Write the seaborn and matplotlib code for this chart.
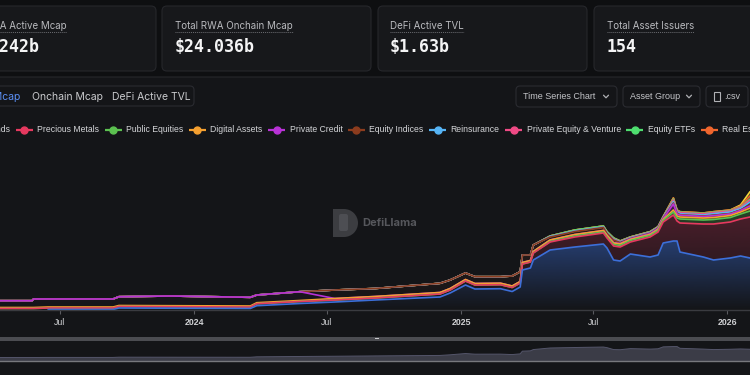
import numpy as np
import pandas as pd
import matplotlib
matplotlib.use("Agg")
import matplotlib.pyplot as plt
from matplotlib.patches import FancyBboxPatch, Rectangle, Wedge
from matplotlib.colors import to_rgb
import matplotlib.dates as mdates
import seaborn as sns

sns.set_theme(style="dark")
plt.rcParams["font.family"] = ["Inter", "DejaVu Sans"]

# active mcap by asset group, in $b
dates = ["2023-04-10", "2023-05-24", "2023-05-26", "2023-06-15", "2023-09-12", "2023-09-20",
         "2023-11-29", "2024-03-18", "2024-03-27", "2024-05-25", "2024-07-12", "2024-09-05",
         "2024-12-03", "2024-12-17", "2025-01-07", "2025-01-20", "2025-02-24", "2025-03-12",
         "2025-03-23", "2025-03-26", "2025-04-06", "2025-04-10", "2025-05-03", "2025-06-06",
         "2025-07-15", "2025-07-20", "2025-07-29", "2025-08-07", "2025-08-21", "2025-09-17",
         "2025-09-28", "2025-10-05", "2025-10-19", "2025-10-24", "2025-10-28", "2025-11-29",
         "2025-12-13", "2026-01-05", "2026-01-19", "2026-02-01"]

treasury_bonds = [np.nan, np.nan, np.nan, 0.05, 0.05, 0.2, 0.18, 0.15, 0.43, 0.65,
                  0.8, 1.0, 1.3, 1.7, 2.5, 2.1, 2.13, 1.85, 2.3, 4.0,
                  4.2, 5.0, 6.0, 6.3, 6.6, 6.2, 5.0, 4.9, 5.6, 5.3,
                  5.5, 6.7, 6.9, 6.9, 5.8, 5.3, 5.0, 5.2, 5.4, 5.2]
precious_metals = [0.15, 0.15, 0.15, 0.15, 0.15, 0.15, 0.15, 0.15, 0.2, 0.2,
                   0.2, 0.2, 0.3, 0.3, 0.4, 0.4, 0.4, 0.4, 0.4, 0.6,
                   0.6, 0.7, 0.8, 1.0, 1.1, 1.0, 1.4, 1.4, 1.2, 2.0,
                   2.3, 2.1, 2.6, 2.0, 2.9, 3.3, 3.6, 3.6, 3.7, 4.1]
public_equities = [0, 0, 0, 0, 0, 0, 0, 0, 0, 0,
                   0, 0, 0, 0, 0, 0, 0, 0, 0, 0,
                   0, 0, 0.05, 0.1, 0.1, 0.1, 0.15, 0.15, 0.15, 0.15,
                   0.15, 0.15, 0.3, 0.3, 0.4, 0.4, 0.45, 0.45, 0.5, 0.6]
digital_assets = [0.1, 0.1, 0.1, 0.1, 0.1, 0.1, 0.1, 0.1, 0.1, 0.1,
                  0.15, 0.15, 0.15, 0.15, 0.15, 0.15, 0.15, 0.15, 0.15, 0.15,
                  0.15, 0.15, 0.15, 0.15, 0.15, 0.15, 0.15, 0.15, 0.1, 0.1,
                  0.1, 0.1, 0.2, 0.2, 0.2, 0.2, 0.2, 0.2, 0.2, 0.3]
private_credit = [0.68, 0.68, 0.85, 0.8, 0.8, 0.88, 0.97, 0.87, 0.77, 0.88,
                  0, 0, 0, 0, 0, 0, 0, 0, 0, 0,
                  0, 0, 0, 0, 0, 0, 0.05, 0.05, 0.05, 0.08,
                  0.08, 0.08, 0.6, 0.2, 0.18, 0.15, 0.18, 0.15, 0.15, 0.2]
equity_indices = [0, 0, 0, 0, 0, 0, 0, 0, 0, 0,
                  0.85, 0.8, 0.92, 0.85, 0.65, 0.68, 0.65, 1.0, 0.98, 0.75,
                  0.55, 0.65, 0.3, 0.3, 0.3, 0.23, 0.25, 0.1, 0.05, 0.05,
                  0.05, 0.05, 0.1, 0.1, 0.05, 0.05, 0.05, 0.05, 0.05, 0.1]
reinsurance = [0, 0, 0, 0, 0, 0, 0, 0, 0, 0,
               0, 0, 0, 0, 0, 0, 0, 0, 0, 0,
               0, 0, 0.05, 0.05, 0.05, 0.05, 0.05, 0.05, 0.05, 0.05,
               0.05, 0.05, 0.15, 0.1, 0.1, 0.1, 0.15, 0.15, 0.15, 0.3]
pe_venture = [0, 0, 0, 0, 0, 0, 0, 0, 0, 0,
              0, 0, 0, 0, 0, 0, 0, 0, 0, 0,
              0, 0, 0, 0, 0, 0, 0.05, 0.05, 0.05, 0.05,
              0.05, 0.05, 0.15, 0.1, 0.1, 0.1, 0.1, 0.1, 0.1, 0.2]
equity_etfs = [0, 0, 0, 0, 0, 0, 0, 0, 0, 0,
               0, 0, 0, 0, 0, 0, 0, 0, 0, 0,
               0, 0, 0.05, 0.1, 0.1, 0.1, 0.1, 0.05, 0.05, 0.05,
               0.05, 0.05, 0.1, 0.05, 0.05, 0.05, 0.05, 0.05, 0.05, 0.1]
real_estate = [0, 0, 0, 0, 0, 0, 0, 0, 0, 0,
               0, 0, 0, 0, 0, 0, 0, 0, 0, 0,
               0, 0, 0, 0, 0, 0, 0, 0, 0, 0,
               0, 0, 0.1, 0.05, 0.05, 0.05, 0.05, 0.05, 0.1, 0.3]
commodities = [0, 0, 0, 0, 0, 0, 0, 0, 0, 0,
               0, 0, 0, 0, 0, 0, 0, 0, 0, 0,
               0, 0, 0, 0, 0, 0, 0, 0, 0, 0,
               0, 0, 0, 0, 0, 0, 0, 0, 0.1, 0.43]

series_names = ["Treasury Bonds", "Precious Metals", "Public Equities", "Digital Assets",
                "Private Credit", "Equity Indices", "Reinsurance", "Private Equity & Venture",
                "Equity ETFs", "Real Estate", "Commodities"]
series_colors = ["#3c6fd9", "#e6395f", "#5cc150", "#f5a030", "#b832d6", "#8c3c1e",
                 "#56b4f5", "#ef4a85", "#4ede6f", "#f0662e", "#f2d43a"]

tick_dates = ["2023-07-01", "2024-01-01", "2024-07-01", "2025-01-01", "2025-07-01", "2026-01-01"]
tick_labels = ["Jul", "2024", "Jul", "2025", "Jul", "2026"]

stat_labels = ["Total RWA Active Mcap", "Total RWA Onchain Mcap", "DeFi Active TVL", "Total Asset Issuers"]
stat_values = ["$18.242b", "$24.036b", "$1.63b", "154"]

df = pd.DataFrame({"date": pd.to_datetime(dates)})
for name, vals in zip(series_names, [treasury_bonds, precious_metals, public_equities, digital_assets,
                                     private_credit, equity_indices, reinsurance, pe_venture,
                                     equity_etfs, real_estate, commodities]):
    df[name] = vals
stacked = df[series_names].fillna(0).cumsum(axis=1)

PAGE = "#0e0f11"
PANEL = "#141518"
CARD = "#17181b"
EDGE = "#26272b"

fig = plt.figure(figsize=(7.5, 3.75), dpi=100)
fig.patch.set_facecolor(PAGE)

bg = fig.add_axes([0, 0, 1, 1])
bg.set_xlim(0, 750)
bg.set_ylim(375, 0)
bg.axis("off")


def box(x0, y0, x1, y1, face, edge, r=5, lw=0.8):
    bg.add_patch(FancyBboxPatch((x0, y0), x1 - x0, y1 - y0,
                                boxstyle=f"round,pad=0,rounding_size={r}",
                                fc=face, ec=edge, lw=lw))


def chevron(cx, cy):
    bg.plot([cx - 2.5, cx, cx + 2.5], [cy - 1.3, cy + 1.3, cy - 1.3], color="#b0b1b5", lw=0.9)


# panels
box(-10, 77, 760, 395, PANEL, EDGE)
for x0, x1 in [(-10, 156), (162, 371), (378, 587), (594, 760)]:
    box(x0, 6, x1, 71, CARD, EDGE)

renderer = fig.canvas.get_renderer()
inv = bg.transData.inverted()

# stat cards (first card is cut by the left edge, as in the screenshot)
label_x = [67, 175, 390, 607]
value_x = [40, 175, 390, 607]
for i, (lab, val) in enumerate(zip(stat_labels, stat_values)):
    ha = "right" if i == 0 else "left"
    t = bg.text(label_x[i], 26, lab, ha=ha, va="center", fontsize=7, color="#b9babe")
    bb = t.get_window_extent(renderer).transformed(inv)
    bg.plot([bb.x0, bb.x1], [31.5, 31.5], color="#6b6c71", lw=0.7, ls=(0, (1, 1)))
    bg.text(value_x[i], 47, val, ha=ha, va="center", fontsize=12, fontweight="bold",
            family="DejaVu Sans Mono", color="#f4f4f5")

# tabs
box(-10, 86, 194, 106, PANEL, "#2a2b30", r=4)
bg.text(20.5, 96.5, "Active Mcap", ha="right", va="center", fontsize=7.5, color="#5b8ff5")
bg.text(32, 96.5, "Onchain Mcap", ha="left", va="center", fontsize=7.5, color="#c9cacd")
bg.text(112, 96.5, "DeFi Active TVL", ha="left", va="center", fontsize=7.5, color="#c9cacd")

# buttons
btn_font = dict(va="center", fontsize=6.5, color="#c4c5c9", family=["Liberation Sans", "DejaVu Sans"])
box(516, 86, 617, 107, PANEL, "#2a2b30", r=4)
bg.text(523, 96.5, "Time Series Chart", **btn_font)
chevron(606, 96.5)
box(623, 86, 700, 107, PANEL, "#2a2b30", r=4)
bg.text(630, 96.5, "Asset Group", **btn_font)
chevron(689, 96.5)
box(706, 86, 748, 107, PANEL, "#2a2b30", r=4)
bg.add_patch(Rectangle((713.5, 92), 6, 8.5, fc="none", ec="#b0b1b5", lw=0.8))
bg.text(724, 96.5, ".csv", **btn_font)

# legend row
leg_y = 130
leg_font = dict(va="center", fontsize=6.2, color="#d5d6d9", family=["Liberation Sans", "DejaVu Sans"])
bg.text(10, leg_y, series_names[0], ha="right", **leg_font)
x = 24
for name, col in zip(series_names[1:], series_colors[1:]):
    bg.plot([x - 8.5, x + 8.5], [leg_y, leg_y], color=col, lw=1.6, solid_capstyle="butt")
    bg.plot([x], [leg_y], "o", ms=5, color=col, mec=col)
    t = bg.text(x + 13, leg_y, name, ha="left", **leg_font)
    x = x + 13 + t.get_window_extent(renderer).width + 14

# watermark
bg.add_patch(Rectangle((333, 209), 11, 28, fc="#3c3d41", ec="none"))
bg.add_patch(Wedge((344, 223), 14, -90, 90, fc="#3c3d41", ec="none"))
bg.add_patch(FancyBboxPatch((339, 214), 9, 17, boxstyle="round,pad=0,rounding_size=2",
                            fc="#4d4e53", ec="none"))
bg.text(362, 223, "DefiLlama", ha="left", va="center", fontsize=8, fontweight="bold", color="#56575c")

# slider bar
bg.add_patch(Rectangle((-5, 336.5), 760, 4.3, fc="#4b4c51", ec="none"))
bg.add_patch(Rectangle((375, 337.6), 3.5, 1.8, fc="#c8c9cc", ec="none"))

# main stacked area chart
ax = fig.add_axes([0, 65 / 375, 1, 170 / 375])
ax.set_facecolor("none")
x_num = mdates.date2num(df["date"])
lower = np.zeros(len(df))
for name, col in zip(series_names, series_colors):
    upper = stacked[name].values
    poly = ax.fill_between(df["date"], lower, upper, facecolor="none", edgecolor="none")
    a_top = 0.45 if name == "Treasury Bonds" else 0.26
    grad = np.zeros((256, 1, 4))
    grad[..., :3] = to_rgb(col)
    grad[:, 0, 3] = np.linspace(0.0, a_top, 256)
    im = ax.imshow(grad, extent=[x_num[0], x_num[-1], 0, upper.max()], origin="lower",
                   aspect="auto", interpolation="bilinear", zorder=1)
    im.set_clip_path(poly.get_paths()[0], transform=ax.transData)
    lower = upper

lines = stacked.copy()
lines["Treasury Bonds"] = df["Treasury Bonds"]
lines["date"] = df["date"]
long = lines.melt(id_vars="date", var_name="series", value_name="value").dropna()
sns.lineplot(data=long, x="date", y="value", hue="series", hue_order=series_names[::-1],
             palette=dict(zip(series_names, series_colors)), linewidth=1.2,
             legend=False, ax=ax, zorder=2)

ax.set_xlim(pd.Timestamp("2023-04-10"), pd.Timestamp("2026-02-01"))
ax.set_ylim(0, 17)
ax.set_xticks(pd.to_datetime(tick_dates))
ax.set_xticklabels(tick_labels)
for lbl in ax.get_xticklabels():
    lbl.set_family(["Liberation Sans", "DejaVu Sans"])
    if lbl.get_text().isdigit():
        lbl.set_fontweight("bold")
ax.tick_params(axis="x", colors="#5a5b60", labelcolor="#d0d1d4", labelsize=6.3,
               length=3, width=0.8, direction="out", pad=2.5, bottom=True)
ax.set_yticks([])
ax.set_xlabel("")
ax.set_ylabel("")
ax.grid(False)
for side in ["top", "left", "right"]:
    ax.spines[side].set_visible(False)
ax.spines["bottom"].set_color("#3a3b40")
ax.spines["bottom"].set_linewidth(1)

# mini overview chart under the slider
mini = fig.add_axes([0, 14 / 375, 1, 20 / 375])
mini.set_facecolor("none")
tb = df["Treasury Bonds"].fillna(0)
mini.fill_between(df["date"], tb, -2.2, color="#3b3c47", lw=0)
mini.plot(df["date"], tb, color="#54556a", lw=0.7)
mini.set_xlim(pd.Timestamp("2023-04-10"), pd.Timestamp("2026-02-01"))
mini.set_ylim(-2.2, 10.4)
mini.set_xticks([])
mini.set_yticks([])
mini.grid(False)
for side in ["top", "left", "right"]:
    mini.spines[side].set_visible(False)
mini.spines["bottom"].set_color("#77787d")
mini.spines["bottom"].set_linewidth(1)

fig.savefig("out.png", dpi=100, facecolor=PAGE)
